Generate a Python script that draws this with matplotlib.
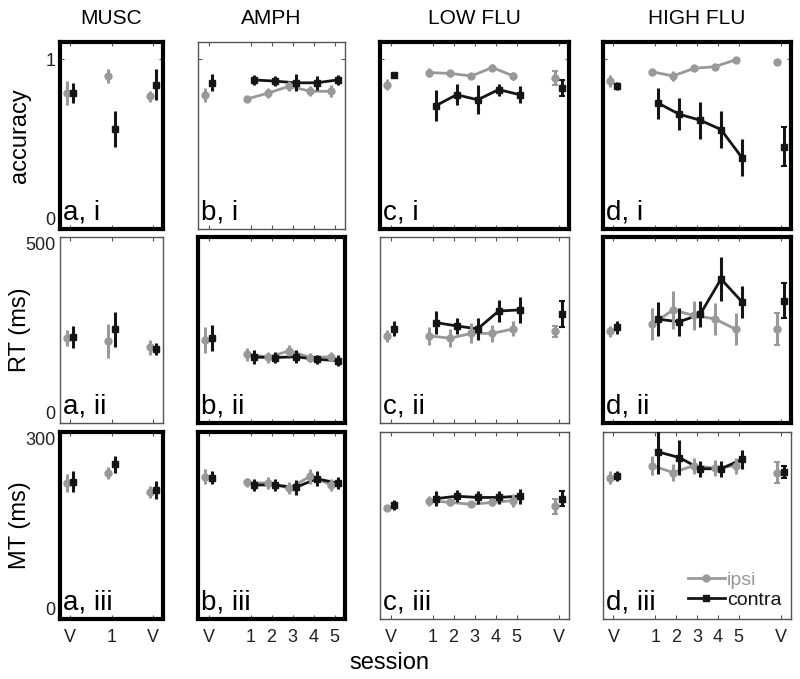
import numpy as np
import matplotlib.pyplot as plt
from matplotlib.lines import Line2D

plt.rcParams['font.family'] = ['Liberation Sans', 'DejaVu Sans']

# session positions and tick labels per column
musc_x = [-1, 1, 3]
amph_x = [-1, 1, 2, 3, 4, 5]
flu_x = [-1, 1, 2, 3, 4, 5, 7]
musc_lbl = ['V', '1', 'V']
amph_lbl = ['V', '1', '2', '3', '4', '5']
flu_lbl = ['V', '1', '2', '3', '4', '5', 'V']
col_titles = ['MUSC', 'AMPH', 'LOW FLU', 'HIGH FLU']
row_labels = ['accuracy', 'RT (ms)', 'MT (ms)']
row_ylim = [1.1, 500, 300]
row_yticks = [[0, 1], [0, 500], [0, 300]]
roman = ['i', 'ii', 'iii']
letters = ['a', 'b', 'c', 'd']

# accuracy
musc_acc_ipsi = [0.80, 0.90, 0.78]
musc_acc_ipsi_e = [0.07, 0.04, 0.03]
musc_acc_contra = [0.80, 0.59, 0.85]
musc_acc_contra_e = [0.06, 0.105, 0.09]
amph_acc_ipsi = [0.79, 0.765, 0.80, 0.84, 0.81, 0.81]
amph_acc_ipsi_e = [0.04, 0.02, 0.03, 0.03, 0.03, 0.035]
amph_acc_contra = [0.86, 0.877, 0.87, 0.86, 0.86, 0.877]
amph_acc_contra_e = [0.05, 0.03, 0.03, 0.05, 0.04, 0.03]
low_acc_ipsi = [0.85, 0.92, 0.915, 0.90, 0.95, 0.90, 0.89]
low_acc_ipsi_e = [0.03, 0.025, 0.02, 0.02, 0.02, 0.025, 0.04]
low_acc_contra = [0.905, 0.725, 0.79, 0.76, 0.82, 0.79, 0.83]
low_acc_contra_e = [0.01, 0.09, 0.06, 0.085, 0.035, 0.05, 0.045]
high_acc_ipsi = [0.87, 0.925, 0.90, 0.945, 0.955, 0.995, 0.985]
high_acc_ipsi_e = [0.035, 0.01, 0.03, 0.01, 0.01, 0.005, 0.005]
high_acc_contra = [0.84, 0.74, 0.675, 0.64, 0.585, 0.42, 0.485]
high_acc_contra_e = [0.025, 0.09, 0.095, 0.11, 0.11, 0.11, 0.113]

# reaction time (ms)
musc_rt_ipsi = [228, 220, 204]
musc_rt_ipsi_e = [22, 45, 20]
musc_rt_contra = [232, 252, 199]
musc_rt_contra_e = [30, 47, 15]
amph_rt_ipsi = [223, 185, 177, 194, 176, 178]
amph_rt_ipsi_e = [34, 17, 15, 15, 12, 12]
amph_rt_contra = [228, 177, 176, 178, 171, 168]
amph_rt_contra_e = [35, 18, 15, 18, 12, 15]
low_rt_ipsi = [234, 234, 228, 241, 241, 253, 246]
low_rt_ipsi_e = [15, 25, 25, 27, 22, 20, 15]
low_rt_contra = [253, 270, 261, 253, 301, 304, 292]
low_rt_contra_e = [20, 30, 22, 30, 30, 35, 35]
high_rt_ipsi = [247, 265, 304, 289, 280, 252, 253]
high_rt_ipsi_e = [15, 43, 50, 40, 43, 43, 43]
high_rt_contra = [257, 279, 272, 292, 387, 326, 329]
high_rt_contra_e = [18, 45, 38, 35, 59, 43, 47]

# movement time (ms)
musc_mt_ipsi = [218, 234, 204]
musc_mt_ipsi_e = [15, 10, 10]
musc_mt_contra = [220, 248, 207]
musc_mt_contra_e = [17, 13, 15]
amph_mt_ipsi = [228, 219, 218, 210, 229, 215]
amph_mt_ipsi_e = [12, 8, 10, 10, 12, 10]
amph_mt_contra = [227, 215, 215, 211, 225, 218]
amph_mt_contra_e = [10, 10, 10, 12, 12, 10]
low_mt_ipsi = [178, 190, 187, 184, 187, 190, 181]
low_mt_ipsi_e = [4, 8, 5, 5, 5, 10, 12]
low_mt_contra = [183, 193, 197, 195, 195, 197, 193]
low_mt_contra_e = [8, 12, 10, 10, 10, 12, 12]
high_mt_ipsi = [227, 246, 235, 246, 242, 246, 235]
high_mt_ipsi_e = [10, 15, 13, 13, 13, 13, 17]
high_mt_contra = [229, 268, 259, 241, 241, 256, 236]
high_mt_contra_e = [8, 35, 28, 13, 13, 15, 10]

col_x = [musc_x, amph_x, flu_x, flu_x]
col_lbl = [musc_lbl, amph_lbl, flu_lbl, flu_lbl]
col_xlim = [(-1.5, 3.5), (-1.5, 5.5), (-1.5, 7.5), (-1.5, 7.5)]
data = [
    [(musc_acc_ipsi, musc_acc_ipsi_e, musc_acc_contra, musc_acc_contra_e),
     (amph_acc_ipsi, amph_acc_ipsi_e, amph_acc_contra, amph_acc_contra_e),
     (low_acc_ipsi, low_acc_ipsi_e, low_acc_contra, low_acc_contra_e),
     (high_acc_ipsi, high_acc_ipsi_e, high_acc_contra, high_acc_contra_e)],
    [(musc_rt_ipsi, musc_rt_ipsi_e, musc_rt_contra, musc_rt_contra_e),
     (amph_rt_ipsi, amph_rt_ipsi_e, amph_rt_contra, amph_rt_contra_e),
     (low_rt_ipsi, low_rt_ipsi_e, low_rt_contra, low_rt_contra_e),
     (high_rt_ipsi, high_rt_ipsi_e, high_rt_contra, high_rt_contra_e)],
    [(musc_mt_ipsi, musc_mt_ipsi_e, musc_mt_contra, musc_mt_contra_e),
     (amph_mt_ipsi, amph_mt_ipsi_e, amph_mt_contra, amph_mt_contra_e),
     (low_mt_ipsi, low_mt_ipsi_e, low_mt_contra, low_mt_contra_e),
     (high_mt_ipsi, high_mt_ipsi_e, high_mt_contra, high_mt_contra_e)],
]
thick = [(0, 0), (0, 2), (0, 3), (1, 1), (1, 3), (2, 0), (2, 1)]

gray = '#999999'
black = '#151515'

# panel geometry in pixels (left, right) and (top, bottom)
col_px = [(60, 163), (198, 345), (380, 569), (603, 791)]
row_px = [(42, 229), (237, 423), (432, 619)]
W, H = 800, 679


def draw(ax, x, lbl, m, e, color, marker, dx):
    x = np.asarray(x, float)
    m = np.asarray(m, float)
    e = np.asarray(e, float)
    sess = np.array([s != 'V' for s in lbl])
    if sess.sum() > 1:
        ax.plot(x[sess] + dx, m[sess], color=color, lw=2, zorder=3)
    last_v = len(lbl) > 1 and lbl[-1] == 'V' and len(lbl) > 3
    for i, (xi, mi, ei) in enumerate(zip(x, m, e)):
        cap = 2 if (last_v and i == len(lbl) - 1) else 0
        ax.errorbar(xi + dx, mi, yerr=ei, color=color, marker=marker, ms=5,
                    lw=2.2, capsize=cap, capthick=1.5, zorder=4)


fig = plt.figure(figsize=(8, 6.79), dpi=100)

for r in range(3):
    for c in range(4):
        l, rr = col_px[c]
        t, b = row_px[r]
        ax = fig.add_axes([l / W, 1 - b / H, (rr - l) / W, (b - t) / H])
        ip, ipe, co, coe = data[r][c]
        draw(ax, col_x[c], col_lbl[c], ip, ipe, gray, 'o', -0.15)
        draw(ax, col_x[c], col_lbl[c], co, coe, black, 's', 0.15)
        ax.set_xlim(*col_xlim[c])
        ax.set_ylim(0, row_ylim[r])
        ax.set_xticks(col_x[c])
        ax.set_yticks(row_yticks[r])
        ax.tick_params(direction='in', top=True, right=True, length=3,
                       width=0.8, colors='#555555', labelcolor='#222222',
                       labelsize=13)
        if r == 2:
            ax.set_xticklabels(col_lbl[c])
            ax.tick_params(axis='x', pad=7)
        else:
            ax.set_xticklabels([])
        if c == 0:
            ax.set_yticklabels([str(v) for v in row_yticks[r]])
            labs = ax.get_yticklabels()
            labs[0].set_va('bottom')
            if r > 0:
                labs[1].set_va('top')
        else:
            ax.set_yticklabels([])
        if (r, c) in thick:
            for s in ax.spines.values():
                s.set_linewidth(3)
                s.set_color('black')
        else:
            for s in ax.spines.values():
                s.set_linewidth(1)
                s.set_color('#555555')
        ax.annotate(letters[c] + ', ' + roman[r], xy=(0, 0),
                    xycoords='axes fraction', xytext=(2, 6.5),
                    textcoords='offset points', fontsize=20,
                    va='baseline', ha='left')
        if r == 2 and c == 3:
            handles = [Line2D([], [], color=gray, marker='o', ms=5, lw=2),
                       Line2D([], [], color=black, marker='s', ms=5, lw=2)]
            ax.legend(handles, ['ipsi', 'contra'], loc='lower right',
                      frameon=False, fontsize=14, handlelength=1.9,
                      handletextpad=0.1, labelspacing=0.15,
                      borderaxespad=0.1, labelcolor='linecolor')

for c in range(4):
    l, rr = col_px[c]
    fig.text((l + rr) / 2 / W, 1 - 18 / H, col_titles[c], ha='center',
             va='center', fontsize=15)

for r in range(3):
    t, b = row_px[r]
    fig.text(20 / W, 1 - (t + b) / 2 / H, row_labels[r], rotation=90,
             ha='center', va='center', fontsize=17)

fig.text(389 / W, 1 - 663 / H, 'session', ha='center', va='center',
         fontsize=17)

fig.savefig('out.png', dpi=100)
